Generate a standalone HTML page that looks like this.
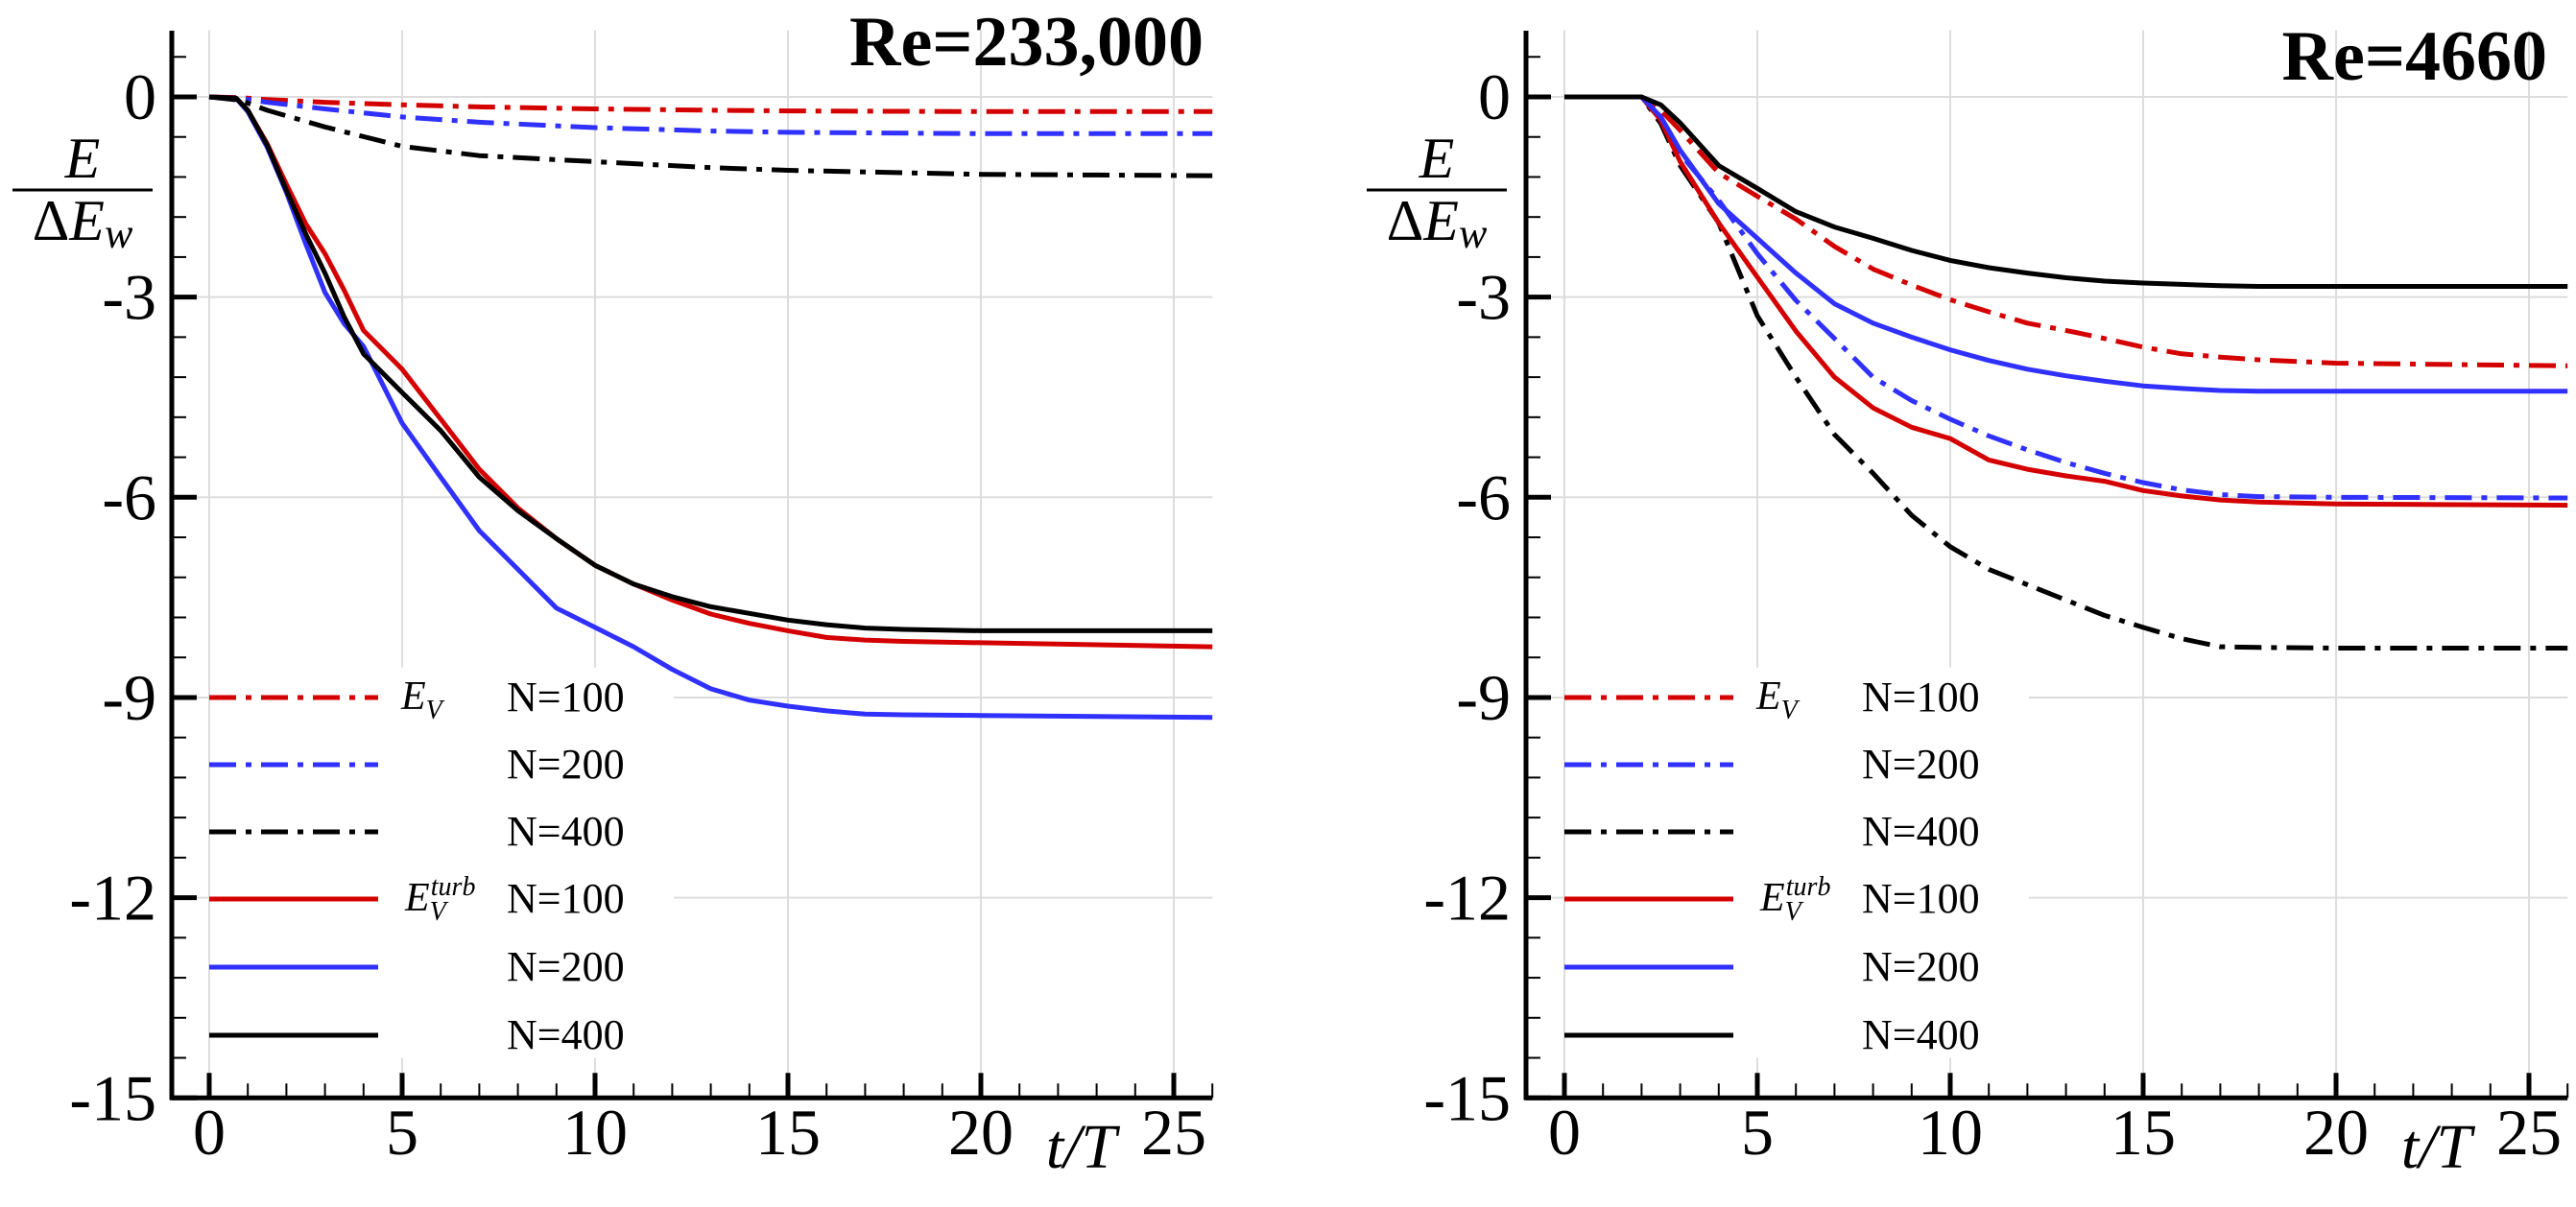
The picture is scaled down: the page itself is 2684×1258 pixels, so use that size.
<!DOCTYPE html>
<html><head><meta charset="utf-8"><style>
html,body{margin:0;padding:0;background:#fff;}
svg{display:block;font-family:"Liberation Serif",serif;}
</style></head><body>
<svg id="chart" width="2684" height="1258" viewBox="0 0 2684 1258" xmlns="http://www.w3.org/2000/svg"></svg>
<script>
const xTicks=[0,5,10,15,20,25];
const yTicks=[0,-3,-6,-9,-12,-15];
const legendLabels=["N=100","N=200","N=400","N=100","N=200","N=400"];
const seriesNames=["ev-n100","ev-n200","ev-n400","evturb-n100","evturb-n200","evturb-n400"];
const seriesColors=["#d40000","#3030ff","#000","#d40000","#3030ff","#000"];
const seriesDashed=[true,true,true,false,false,false];
// Left panel Re=233,000
const leftX_EV=[0,0.8,1.5,3,5,7,10,13,15,20,26];
const left_EV100=[0,-0.01,-0.04,-0.08,-0.12,-0.15,-0.18,-0.2,-0.21,-0.22,-0.22];
const left_EV200=[0,-0.02,-0.08,-0.18,-0.3,-0.38,-0.46,-0.51,-0.53,-0.55,-0.55];
const left_EV400=[0,-0.05,-0.2,-0.45,-0.74,-0.88,-0.97,-1.06,-1.1,-1.16,-1.18];
const leftX_T=[0,0.7,1,1.5,2,2.5,3,3.5,4,5,6,7,8,9,10,11,12,13,14,15,16,17,18,20,26];
const left_T100=[0,-0.02,-0.2,-0.7,-1.31,-1.9,-2.35,-2.9,-3.5,-4.08,-4.83,-5.58,-6.16,-6.62,-7.02,-7.3,-7.54,-7.75,-7.89,-8.0,-8.1,-8.14,-8.16,-8.18,-8.24];
const left_T200=[0,-0.02,-0.22,-0.75,-1.43,-2.2,-2.93,-3.4,-3.74,-4.89,-5.7,-6.5,-7.08,-7.66,-7.95,-8.24,-8.58,-8.87,-9.04,-9.13,-9.2,-9.25,-9.26,-9.27,-9.3];
const left_T400=[0,-0.02,-0.2,-0.72,-1.4,-2.05,-2.64,-3.3,-3.85,-4.43,-5.0,-5.7,-6.2,-6.62,-7.02,-7.3,-7.49,-7.64,-7.74,-7.84,-7.91,-7.96,-7.98,-8.0,-8.0];
// Right panel Re=4660
const rightX=[0,2,2.5,3,4,5,6,7,8,9,10,11,12,13,14,15,16,17,18,20,26];
const right_EV100=[0,0,-0.2,-0.5,-1.14,-1.49,-1.83,-2.24,-2.58,-2.82,-3.04,-3.22,-3.39,-3.5,-3.62,-3.75,-3.85,-3.9,-3.94,-3.99,-4.03];
const right_EV200=[0,0,-0.3,-0.85,-1.55,-2.35,-3.05,-3.62,-4.2,-4.55,-4.83,-5.08,-5.29,-5.48,-5.64,-5.78,-5.89,-5.96,-5.99,-6.0,-6.01];
const right_EV400=[0,0,-0.4,-1.03,-1.89,-3.28,-4.2,-5.06,-5.64,-6.27,-6.74,-7.08,-7.31,-7.54,-7.77,-7.95,-8.12,-8.24,-8.25,-8.26,-8.26];
const right_T100=[0,0,-0.35,-0.97,-1.89,-2.7,-3.51,-4.2,-4.66,-4.95,-5.12,-5.44,-5.58,-5.68,-5.76,-5.9,-5.98,-6.04,-6.07,-6.1,-6.12];
const right_T200=[0,0,-0.3,-0.8,-1.6,-2.12,-2.64,-3.1,-3.39,-3.6,-3.79,-3.95,-4.08,-4.18,-4.26,-4.33,-4.37,-4.4,-4.41,-4.41,-4.41];
const right_T400=[0,0,-0.12,-0.39,-1.03,-1.37,-1.72,-1.95,-2.12,-2.3,-2.45,-2.56,-2.64,-2.71,-2.76,-2.79,-2.81,-2.83,-2.84,-2.84,-2.84];

const NS="http://www.w3.org/2000/svg";
const svg=document.getElementById('chart');
function mk(tag,attrs,parent){const e=document.createElementNS(NS,tag);for(const k in attrs)e.setAttribute(k,attrs[k]);(parent||svg).appendChild(e);return e;}

function panel(p){
  const g=mk('g',{});
  
  
  const sx=v=>p.x0+v*p.kx, sy=v=>p.y0-v*p.ky;
  xTicks.forEach(t=>{const l=mk('line',{x1:sx(t),x2:sx(t),y1:sy(1.0),y2:sy(-15),stroke:'#ddd','stroke-width':2},g);
    });
  yTicks.forEach(t=>{const l=mk('line',{x1:p.ax,x2:sx(26),y1:sy(t),y2:sy(t),stroke:'#ddd','stroke-width':2},g);
    });
  const bg=mk('rect',{x:sx(0)+4,y:sy(-8.55),width:480,height:sy(-14.4)-sy(-8.55),fill:'#fff'},g);
  
  p.series.forEach((ys,i)=>{
    const xs=p.xs[i];
    const d=ys.map((v,j)=>(j?'L':'M')+sx(xs[j]).toFixed(1)+' '+sy(v).toFixed(1)).join(' ');
    const path=mk('path',{d:d,fill:'none',stroke:seriesColors[i],'stroke-width':5,'stroke-linejoin':'round'},g);
    if(seriesDashed[i])path.setAttribute('stroke-dasharray','28 10 6 10');
    
    
  });
  const ya=mk('line',{x1:p.ax,x2:p.ax,y1:32,y2:sy(-15)+2,stroke:'#000','stroke-width':5},g);
  
  const xa=mk('line',{x1:p.ax-2,x2:sx(26),y1:sy(-15),y2:sy(-15),stroke:'#000','stroke-width':5},g);
  
  for(let t=0;t<=26;t++){const maj=t%5===0;
    const l=mk('line',{x1:sx(t),x2:sx(t),y1:sy(-15),y2:sy(-15)-(maj?26:15),stroke:'#000','stroke-width':maj?5:2},g);
    }
  for(let k=0;k<=26;k++){const v=0.6-k*0.6;if(v<-15.01)break;const maj=Math.abs(v/3-Math.round(v/3))<1e-6;
    const l=mk('line',{x1:p.ax,x2:p.ax+(maj?26:15),y1:sy(v),y2:sy(v),stroke:'#000','stroke-width':maj?5:2},g);
    }
  xTicks.forEach(t=>{const tx=mk('text',{x:sx(t),y:1203,'font-size':68,'text-anchor':'middle'},g);tx.textContent=t;
    });
  yTicks.forEach(t=>{const tx=mk('text',{x:p.ax-16,y:sy(t)+23,'font-size':68,'text-anchor':'end'},g);tx.textContent=t;
    });
  const ti=mk('text',{x:p.titleX,y:p.titleY,'font-size':74,'font-weight':'bold','text-anchor':'end'},g);ti.textContent=p.title;
  
  const yl=mk('g',{},g);
  const cx=p.ylx;
  const e1=mk('text',{x:cx,y:185,'font-size':60,'font-style':'italic','text-anchor':'middle'},yl);e1.textContent='E';
  mk('line',{x1:cx-73,x2:cx+73,y1:198,y2:198,stroke:'#000','stroke-width':3},yl);
  const e2=mk('text',{x:cx,y:250,'font-size':60,'text-anchor':'middle'},yl);
  const s1=mk('tspan',{},e2);s1.textContent='Δ';
  const s2=mk('tspan',{'font-style':'italic'},e2);s2.textContent='E';
  const s3=mk('tspan',{'font-style':'italic','font-size':44,dy:8},e2);s3.textContent='w';
  const xl=mk('text',{x:sx(22.6),y:1217,'font-size':66,'font-style':'italic','text-anchor':'middle'},g);xl.textContent='t/T';
  
  const lg=mk('g',{},g);
  const rows=[727,797,867,937,1008,1079];
  legendLabels.forEach((lab,i)=>{
    const eg=mk('g',{},lg);
    const ln=mk('line',{x1:sx(0),x2:sx(0)+176,y1:rows[i],y2:rows[i],stroke:seriesColors[i],'stroke-width':5},eg);
    if(seriesDashed[i])ln.setAttribute('stroke-dasharray','28 10 6 10');
    const tx=mk('text',{x:sx(0)+310,y:rows[i]+14,'font-size':44},eg);tx.textContent=lab;
  });
  const ev=mk('text',{x:sx(0)+200,y:rows[0]+12,'font-size':42,'font-style':'italic'},lg);
  const a=mk('tspan',{},ev);a.textContent='E';const b=mk('tspan',{'font-size':28,dy:10},ev);b.textContent='V';
  const et=mk('text',{x:sx(0)+204,y:rows[3]+12,'font-size':42,'font-style':'italic'},lg);
  const c=mk('tspan',{},et);c.textContent='E';
  const d2=mk('tspan',{'font-size':28,dy:10},et);d2.textContent='V';
  const e3=mk('tspan',{'font-size':28,dx:-16,dy:-26},et);e3.textContent='turb';
}
panel({name:'panel-re-233000',x0:218,kx:40.2,y0:101,ky:69.55,ax:179,title:'Re=233,000',titleX:1254,titleY:68,ylx:86,
  xs:[leftX_EV,leftX_EV,leftX_EV,leftX_T,leftX_T,leftX_T],
  series:[left_EV100,left_EV200,left_EV400,left_T100,left_T200,left_T400]});
panel({name:'panel-re-4660',x0:1630,kx:40.2,y0:101,ky:69.55,ax:1590,title:'Re=4660',titleX:2654,titleY:83,ylx:1497,
  xs:[rightX,rightX,rightX,rightX,rightX,rightX],
  series:[right_EV100,right_EV200,right_EV400,right_T100,right_T200,right_T400]});
</script>
</body></html>
